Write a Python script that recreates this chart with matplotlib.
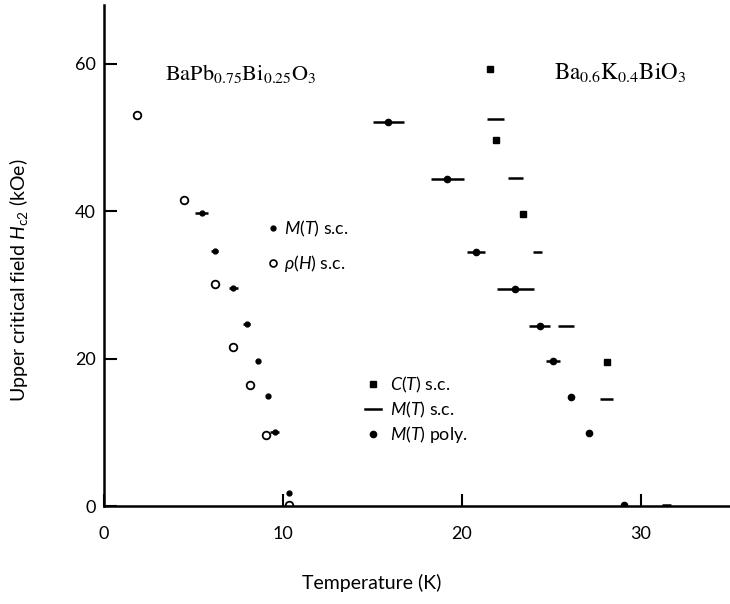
import matplotlib
matplotlib.use("Agg")
import matplotlib.pyplot as plt
from matplotlib.lines import Line2D

plt.rcParams['font.family'] = ['Lato', 'DejaVu Sans']
plt.rcParams['mathtext.fontset'] = 'custom'
plt.rcParams['mathtext.rm'] = 'Lato'
plt.rcParams['mathtext.it'] = 'Lato:italic'

# BaPb0.75Bi0.25O3
rho_T = [1.83, 4.47, 6.2, 7.22, 8.16, 9.03, 10.37]
rho_H = [53.0, 41.5, 30.2, 21.6, 16.5, 9.6, 0.2]
mts_left_T = [5.46, 6.2, 7.22, 7.97, 8.62, 9.15, 9.55, 10.37]
mts_left_H = [39.7, 34.6, 29.6, 24.7, 19.7, 14.9, 10.0, 1.8]
mts_left_err = [0.35, 0.2, 0.25, 0.2, 0.1, 0.1, 0.25, 0.0]

# Ba0.6K0.4BiO3
ct_T = [21.56, 21.9, 23.4, 28.1]
ct_H = [59.3, 49.7, 39.6, 19.5]
mts_T = [21.87, 23.0, 24.25, 25.85, 28.1, 31.45]
mts_H = [52.5, 44.5, 34.5, 24.4, 14.6, 0.1]
mts_err = [0.47, 0.4, 0.25, 0.45, 0.35, 0.25]
poly_T = [15.9, 19.2, 20.8, 23.0, 24.36, 25.1, 26.1, 27.1, 29.05]
poly_H = [52.1, 44.4, 34.5, 29.4, 24.4, 19.7, 14.8, 9.9, 0.1]
poly_err = [0.85, 0.9, 0.5, 1.05, 0.6, 0.4, 0.0, 0.0, 0.0]

fig = plt.figure(figsize=(7.3, 6.04), dpi=100)
ax = fig.add_axes([0.1425, 0.162, 0.8575, 0.83])

ax.plot(rho_T, rho_H, 'o', mfc='white', mec='black', ms=5.5, mew=1.3)
ax.errorbar(mts_left_T, mts_left_H, xerr=mts_left_err, fmt='o', color='black',
            ms=3.5, elinewidth=1.8, capsize=0)
ax.plot(ct_T, ct_H, 's', color='black', ms=4.5)
ax.errorbar(mts_T, mts_H, xerr=mts_err, fmt='none', ecolor='black',
            elinewidth=1.8, capsize=0)
ax.errorbar(poly_T, poly_H, xerr=poly_err, fmt='o', color='black',
            ms=4.5, elinewidth=1.8, capsize=0)

ax.set_xlim(0, 35)
ax.set_ylim(0, 68)
ax.set_xticks([0, 10, 20, 30])
ax.set_yticks([0, 20, 40, 60])
ax.tick_params(direction='in', length=9, width=1.5, labelsize=13)
ax.tick_params(axis='x', pad=14)
ax.tick_params(axis='y', pad=6)
for s in ['top', 'right']:
    ax.spines[s].set_visible(False)
for s in ['left', 'bottom']:
    ax.spines[s].set_linewidth(1.8)

ax.set_xlabel('Temperature (K)', fontsize=14)
ax.xaxis.set_label_coords(0.427, -0.136)
ax.set_ylabel(r'Upper critical field $H_{\rm c2}$ (kOe)', fontsize=14)
ax.yaxis.set_label_coords(-0.118, 0.45)

ax.text(0.0974, 0.850, r'$\mathrm{BaPb_{0.75}Bi_{0.25}O_3}$', transform=ax.transAxes,
        fontsize=16, math_fontfamily='stix', va='baseline')
ax.text(0.719, 0.850, r'$\mathrm{Ba_{0.6}K_{0.4}BiO_3}$', transform=ax.transAxes,
        fontsize=16.5, math_fontfamily='stix', va='baseline')

h1 = [Line2D([], [], marker='o', ls='none', color='black', ms=3.5),
      Line2D([], [], marker='o', ls='none', mfc='white', mec='black', ms=5, mew=1.2)]
leg1 = ax.legend(h1, [r'$M$($T$) s.c.', r'$\rho$($H$) s.c.'], loc='upper left',
                 bbox_to_anchor=(0.2615, 0.573), frameon=False, fontsize=12.8,
                 borderpad=0, borderaxespad=0, handlelength=0.6, handletextpad=0.3,
                 labelspacing=0.8)
ax.add_artist(leg1)
h2 = [Line2D([], [], marker='s', ls='none', color='black', ms=4.5),
      Line2D([], [], ls='-', color='black', lw=1.8),
      Line2D([], [], marker='o', ls='none', color='black', ms=4.5)]
ax.legend(h2, [r'$C$($T$) s.c.', r'$M$($T$) s.c.', r'$M$($T$) poly.'], loc='upper left',
          bbox_to_anchor=(0.4175, 0.262), frameon=False, fontsize=12.8,
          borderpad=0, borderaxespad=0, handlelength=0.9, handletextpad=0.5,
          labelspacing=0.25)

fig.savefig('out.png', dpi=100)
